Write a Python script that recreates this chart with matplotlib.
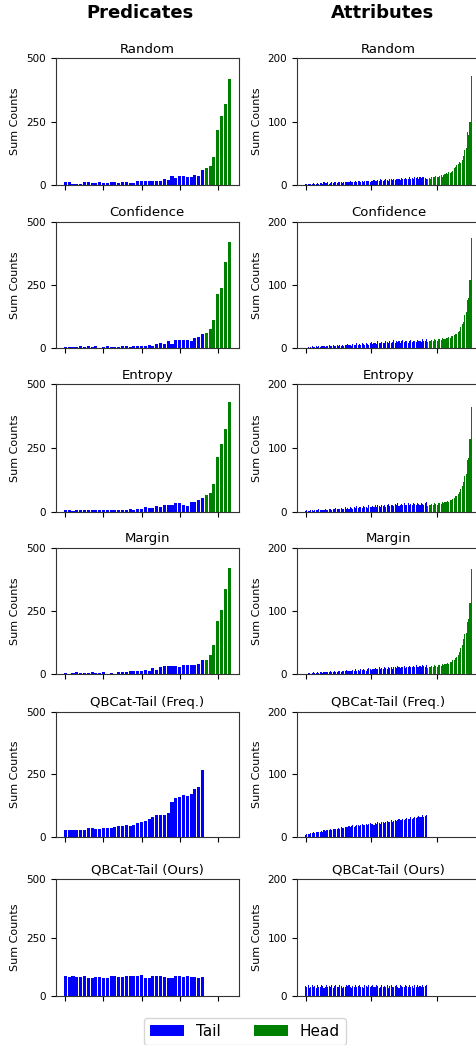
"""
Sum counts per class, Predicates vs Attributes, six sampling strategies.
Classes sorted by frequency; tail in blue, head in green.
Output: out.png (476x1045)
"""

import numpy as np
import matplotlib
matplotlib.use("Agg")
import matplotlib.pyplot as plt
from matplotlib.patches import Patch

# --- data ---
methods = ["Random", "Confidence", "Entropy", "Margin",
           "QBCat-Tail (Freq.)", "QBCat-Tail (Ours)"]

# predicates: 37 tail classes + 7 head classes
p_rand_tail = [10, 10, 3, 5, 3, 10, 10, 7, 7, 10, 7, 7, 10, 10, 8, 10, 12, 9, 6,
               14, 14, 14, 17, 17, 17, 17, 22, 20, 34, 27, 37, 37, 30, 30, 41, 34, 60]
p_rand_head = [66, 75, 109, 217, 272, 320, 418]
p_conf_tail = [5, 5, 6, 6, 8, 6, 8, 6, 8, 3, 6, 8, 6, 6, 6, 8, 8, 6, 8, 8,
               10, 10, 13, 10, 16, 19, 17, 27, 17, 33, 34, 33, 34, 29, 42, 45, 55]
p_conf_head = [61, 75, 111, 213, 240, 341, 421]
p_entr_tail = [5, 5, 3, 5, 8, 8, 6, 6, 8, 5, 8, 5, 6, 8, 8, 8, 8, 10, 8, 12,
               10, 17, 16, 16, 22, 20, 28, 28, 28, 34, 34, 28, 24, 38, 40, 44, 55]
p_entr_head = [66, 72, 109, 215, 265, 325, 429]
p_marg_tail = [6, 3, 6, 8, 6, 6, 6, 8, 6, 6, 8, 3, 6, 3, 10, 10, 10, 12, 12, 12,
               13, 17, 13, 25, 16, 29, 33, 33, 33, 33, 30, 36, 36, 38, 36, 42, 58]
p_marg_head = [58, 75, 115, 210, 253, 335, 419]
p_freq_tail = [28, 26, 26, 28, 26, 28, 34, 34, 32, 32, 34, 34, 34, 38, 41, 42, 46, 42,
               48, 54, 60, 64, 70, 78, 86, 87, 88, 93, 138, 156, 160, 168, 162, 170,
               190, 200, 265]
p_ours_tail = [87, 82, 87, 82, 82, 85, 78, 78, 82, 82, 78, 78, 87, 85, 82, 82, 87, 85,
               85, 87, 90, 78, 78, 85, 87, 85, 82, 78, 78, 85, 85, 82, 85, 82, 82, 78, 82]

# attributes: 93 tail classes + 34 head classes
a_rand_tail = [1, 2, 1, 2, 2, 1, 3, 2, 2, 3, 2, 3, 3, 2, 4, 3, 3, 4, 2, 3,
               4, 3, 4, 4, 3, 5, 4, 4, 3, 5, 4, 5, 5, 4, 6, 5, 4, 5, 6, 5,
               7, 6, 5, 6, 5, 7, 6, 6, 7, 5, 6, 7, 8, 6, 7, 8, 7, 9, 8, 7,
               8, 9, 8, 7, 9, 10, 8, 9, 8, 10, 9, 10, 8, 11, 9, 10, 11, 9, 10, 12,
               10, 11, 9, 12, 11, 13, 10, 12, 11, 13, 12, 11, 10]
a_rand_head = [10, 11, 10, 12, 13, 12, 14, 13, 12, 14, 15, 13, 16, 17, 19, 18, 20,
               19, 21, 22, 27, 28, 31, 33, 36, 35, 40, 45, 55, 58, 83, 79, 100, 172]
a_conf_tail = [1, 1, 2, 1, 2, 3, 2, 2, 3, 2, 3, 2, 4, 3, 3, 2, 4, 3, 5, 3,
               4, 5, 4, 3, 5, 4, 6, 4, 5, 4, 6, 5, 7, 5, 6, 4, 7, 6, 5, 8,
               6, 7, 5, 8, 7, 6, 9, 7, 6, 8, 10, 7, 8, 9, 7, 11, 8, 9, 10, 8,
               9, 11, 10, 8, 12, 9, 10, 13, 9, 11, 10, 12, 9, 11, 13, 10, 12, 11, 9, 12,
               13, 10, 11, 12, 10, 13, 11, 12, 10, 14, 11, 12, 15]
a_conf_head = [10, 12, 11, 13, 12, 14, 13, 12, 15, 14, 13, 16, 15, 14, 17, 16, 18,
               17, 20, 19, 21, 23, 22, 25, 28, 33, 38, 42, 52, 58, 77, 80, 108, 175]
a_entr_tail = [1, 2, 1, 1, 3, 2, 1, 3, 2, 2, 4, 2, 3, 3, 2, 4, 3, 3, 5, 4,
               3, 5, 4, 6, 4, 5, 4, 6, 5, 5, 7, 5, 6, 4, 8, 6, 5, 7, 6, 9,
               6, 7, 8, 6, 9, 7, 8, 6, 10, 7, 8, 9, 7, 10, 8, 11, 9, 8, 10, 9,
               11, 8, 10, 12, 9, 10, 11, 9, 12, 10, 13, 9, 11, 12, 10, 13, 11, 10, 14, 11,
               12, 10, 13, 12, 11, 14, 12, 10, 13, 12, 11, 14, 16]
a_entr_head = [9, 11, 10, 12, 11, 13, 12, 11, 14, 13, 12, 15, 14, 16, 15, 17, 16,
               19, 18, 20, 22, 25, 24, 28, 31, 36, 41, 47, 56, 59, 81, 84, 114, 164]
a_marg_tail = [1, 1, 2, 2, 1, 2, 3, 2, 2, 3, 2, 3, 3, 2, 4, 3, 4, 3, 3, 5,
               4, 3, 5, 4, 4, 6, 5, 4, 6, 5, 5, 7, 5, 6, 6, 5, 7, 6, 8, 6,
               7, 6, 8, 7, 9, 7, 6, 8, 10, 8, 7, 9, 8, 10, 9, 8, 11, 9, 10, 8,
               11, 10, 9, 12, 10, 11, 9, 12, 11, 10, 13, 11, 10, 12, 11, 13, 10, 12, 11, 13,
               12, 11, 13, 12, 14, 11, 12, 13, 12, 14, 13, 12, 14]
a_marg_head = [10, 12, 11, 13, 12, 14, 13, 12, 15, 14, 13, 16, 15, 17, 16, 18, 17,
               20, 19, 22, 23, 26, 28, 31, 35, 41, 47, 55, 63, 66, 82, 88, 112, 167]
a_freq_tail = [3, 4, 5, 5, 6, 6, 7, 6, 7, 8, 8, 7, 9, 8, 10, 9, 10, 11, 10, 12,
               11, 12, 13, 12, 13, 14, 13, 15, 14, 14, 16, 15, 16, 17, 15, 17, 18, 16, 17, 19,
               18, 17, 19, 20, 18, 19, 21, 19, 20, 22, 20, 21, 19, 22, 21, 23, 22, 20, 23, 24,
               22, 23, 25, 24, 23, 26, 24, 25, 27, 25, 26, 28, 26, 27, 29, 27, 28, 30, 28, 29,
               31, 29, 30, 32, 30, 31, 33, 31, 32, 34, 32, 33, 35]
a_ours_tail = [17, 15, 19, 14, 16, 18, 15, 17, 14, 19, 16, 15, 18, 17, 14, 16, 19, 15, 17, 16,
               18, 14, 17, 19, 15, 16, 18, 17, 14, 16, 15, 18, 17, 19, 16, 14, 17, 15, 18, 16,
               17, 19, 15, 16, 14, 18, 17, 15, 19, 16, 17, 18, 15, 16, 19, 17, 14, 16, 18, 15,
               17, 16, 19, 14, 17, 18, 16, 15, 17, 19, 16, 14, 18, 17, 15, 16, 19, 17, 15, 18,
               16, 17, 14, 18, 16, 19, 15, 17, 16, 18, 15, 17, 19]

pred_tails = [p_rand_tail, p_conf_tail, p_entr_tail, p_marg_tail, p_freq_tail, p_ours_tail]
pred_heads = [p_rand_head, p_conf_head, p_entr_head, p_marg_head, [], []]
attr_tails = [a_rand_tail, a_conf_tail, a_entr_tail, a_marg_tail, a_freq_tail, a_ours_tail]
attr_heads = [a_rand_head, a_conf_head, a_entr_head, a_marg_head, [], []]

pred_yticks = [0, 250, 500]
attr_yticks = [0, 100, 200]
pred_xticks = [0, 10, 20, 30, 40]
attr_xticks = [0, 50, 100]

TAIL_COLOR = "blue"
HEAD_COLOR = "green"

# --- style ---
plt.rcParams.update({
    "font.family": "DejaVu Sans",
    "font.size": 8,
    "axes.titlesize": 9.5,
    "axes.labelsize": 8,
    "xtick.labelsize": 7.5,
    "ytick.labelsize": 7.5,
    "axes.linewidth": 0.8,
    "axes.edgecolor": "#333333",
})

W, H = 476, 1045
fig = plt.figure(figsize=(W / 100, H / 100), dpi=100)

# axes boxes in pixels (top, bottom) per row, left edge per column
rows_px = [(58.3, 185), (221.7, 348.3), (384.3, 511.7), (547.7, 674.3),
           (711.7, 836.7), (879, 996)]
cols_px = [55.5, 296.7]
AX_W = 183.5


def draw_panel(ax, tail, head, yticks, xticks, title):
    nt = len(tail)
    ax.bar(np.arange(nt), tail, width=0.8, color=TAIL_COLOR, linewidth=0)
    if head:
        ax.bar(np.arange(nt, nt + len(head)), head, width=0.8,
               color=HEAD_COLOR, linewidth=0)
    ax.set_ylim(yticks[0], yticks[-1])
    ax.set_yticks(yticks)
    ax.set_xticks(xticks)
    ax.tick_params(labelbottom=False)
    ax.set_ylabel("Sum Counts")
    ax.set_title(title, pad=4)


for c, (tails, heads, yt, xt) in enumerate([
        (pred_tails, pred_heads, pred_yticks, pred_xticks),
        (attr_tails, attr_heads, attr_yticks, attr_xticks)]):
    first = None
    for r, (top, bot) in enumerate(rows_px):
        rect = [cols_px[c] / W, 1 - bot / H, AX_W / W, (bot - top) / H]
        ax = fig.add_axes(rect, sharex=first)
        if first is None:
            first = ax
        draw_panel(ax, tails[r], heads[r], yt, xt, methods[r])

# column headers
fig.text(140.5 / W, 1 - 13 / H, "Predicates", ha="center", va="center",
         fontsize=13, fontweight="bold")
fig.text(383 / W, 1 - 13 / H, "Attributes", ha="center", va="center",
         fontsize=13, fontweight="bold")

handles = [Patch(facecolor=TAIL_COLOR, label="Tail"),
           Patch(facecolor=HEAD_COLOR, label="Head")]
fig.legend(handles=handles, loc="upper center", ncol=2, fontsize=11,
           bbox_to_anchor=(245 / W, 1 - 1018 / H), borderaxespad=0,
           handlelength=2.2, columnspacing=2.2)

fig.savefig("out.png", dpi=100)
plt.close(fig)
